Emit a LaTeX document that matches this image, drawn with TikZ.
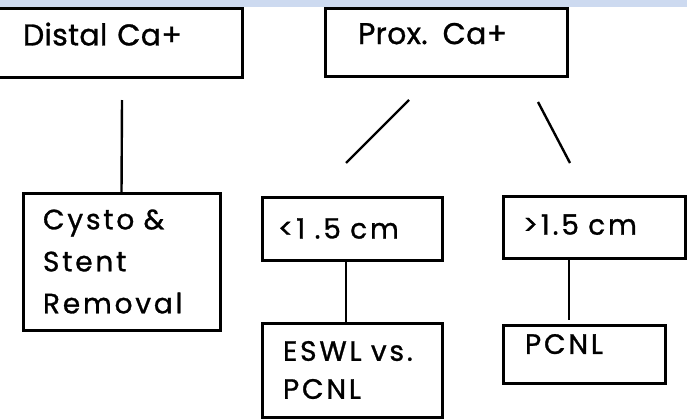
\documentclass[tikz,border=0pt]{standalone}
\usepackage{fontspec}
\setmainfont{Poppins}
\newfontfamily\topfont{Poppins}[LetterSpace=1, FakeBold=1]
\newfontfamily\lowfont{Poppins}[LetterSpace=10, WordSpace=1.5, FakeBold=1]
\definecolor{stripblue}{RGB}{205,218,240}

\begin{document}
\begin{tikzpicture}[x=1pt, y=-1pt,
  box/.style={draw, line width=3pt, rectangle, anchor=north west, outer sep=0pt, inner ysep=0pt, align=left},
  big/.style={font=\topfont\fontsize{30}{36}\selectfont},
  small/.style={font=\lowfont\fontsize{28}{38}\selectfont},
  link/.style={line width=2.4pt}]
\useasboundingbox (0,0) rectangle (687,418);
\fill[stripblue] (0,0) rectangle (687,7);
% top row
\node[box, big, minimum height=69pt, inner xsep=26pt, text width=193pt, text depth=17pt] (distal) at (-3,8) {Distal Ca+};
\node[box, big, minimum height=68pt, inner xsep=33pt, text width=176pt, text depth=17pt] (prox) at (325,8) {Prox. Ca+};
% second row
\node[box, small, font=\lowfont\fontsize{28}{42}\selectfont, minimum height=137pt, inner xsep=20pt, text width=157pt] (cysto) at (23,193) {Cysto~\&\\Stent\\Removal};
\node[box, small, minimum height=63pt, inner xsep=16pt, text width=148pt] (lt) at (262,197) {<1~.5~cm};
\node[box, small, minimum height=62pt, inner xsep=20pt, text width=142pt, text depth=5pt] (gt) at (503,196) {>1.5~cm};
% third row
\node[box, small, minimum height=94pt, inner xsep=21pt, text width=138pt] (eswl) at (262,323) {ESWL~vs.\\PCNL};
\node[box, small, minimum height=58pt, inner xsep=22pt, text width=118pt, text depth=20pt] (pcnl) at (503,325) {PCNL};
% free ends
\coordinate (dtop) at (122,100);
\coordinate (la) at (409,100);
\coordinate (lb) at (346,163);
\coordinate (ra) at (538,102);
\coordinate (rb) at (570,163);
\coordinate (pl) at (569,320);
% connectors
\draw[link] (dtop) -- (cysto.north);
\draw[link] (la) -- (lb);
\draw[link] (ra) -- (rb);
\draw[link] ([xshift=-6pt]lt.south) -- ([xshift=-6pt]eswl.north);
\draw[link] (gt.south -| pl) -- (pl);
\end{tikzpicture}
\end{document}
